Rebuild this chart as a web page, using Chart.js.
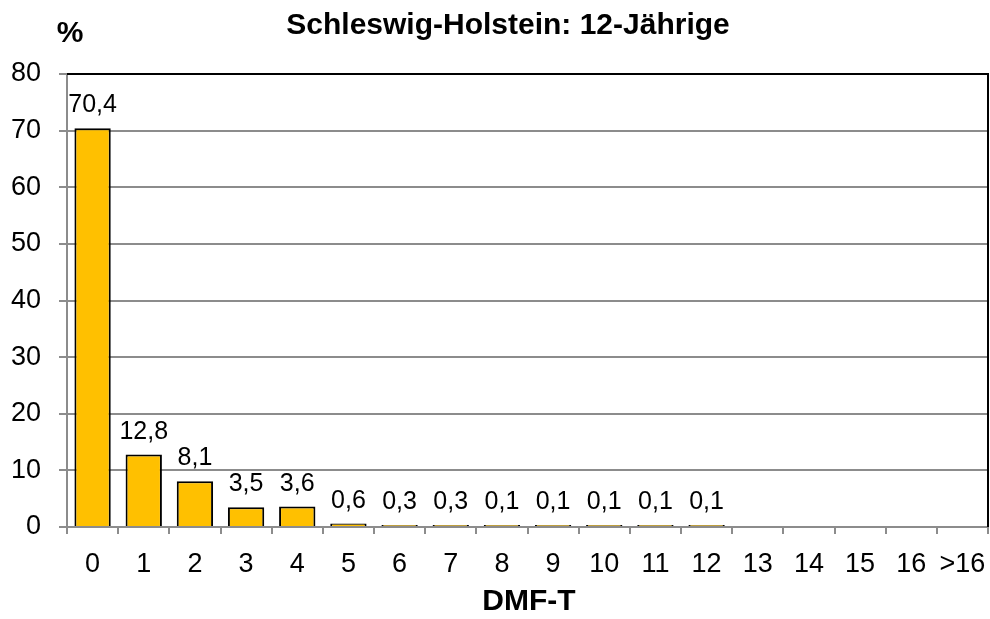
<!DOCTYPE html>
<html><head><meta charset="utf-8">
<script src="https://cdn.jsdelivr.net/npm/chart.js@4"></script>
<style>html,body{margin:0;padding:0;background:#fff}#w{width:990px;height:619px}</style>
</head><body><div id="w"><canvas id="c"></canvas></div>
<script>
const categories = ['0','1','2','3','4','5','6','7','8','9','10','11','12','13','14','15','16','>16'];
const values = [70.4, 12.8, 8.1, 3.5, 3.6, 0.6, 0.3, 0.3, 0.1, 0.1, 0.1, 0.1, 0.1, null, null, null, null, null];
const yTicks = [0,10,20,30,40,50,60,70,80];
const titleText = 'Schleswig-Holstein: 12-Jährige';
const yTitle = '%';
const xTitle = 'DMF-T';

const FONT = '"Liberation Sans", Arial, sans-serif';

const decor = {
  id: 'decor',
  afterDatasetsDraw(chart) {
    const ctx = chart.ctx, a = chart.chartArea;
    ctx.save();
    ctx.strokeStyle = '#000'; ctx.lineWidth = 2;
    ctx.beginPath();
    ctx.moveTo(a.left, a.top); ctx.lineTo(a.right, a.top); ctx.lineTo(a.right, a.bottom);
    ctx.stroke();
    const meta = chart.getDatasetMeta(0);
    ctx.fillStyle = '#000';
    ctx.font = '25px ' + FONT;
    ctx.textAlign = 'center'; ctx.textBaseline = 'alphabetic';
    meta.data.forEach((bar, i) => {
      const v = values[i];
      if (v === null) return;
      ctx.fillText(v.toFixed(1).replace('.', ','), bar.x, bar.y - 16);
    });
    ctx.font = 'bold 30px ' + FONT;
    ctx.fillText(titleText, 508, 34);
    ctx.fillText(yTitle, 70, 42);
    ctx.fillText(xTitle, 529, 610);
    ctx.restore();
  }
};

new Chart(document.getElementById('c'), {
  type: 'bar',
  data: {
    labels: categories,
    datasets: [{
      data: values,
      backgroundColor: '#FFC000',
      borderColor: '#000',
      borderWidth: 2,
      minBarLength: 2,
      barPercentage: 0.71,
      categoryPercentage: 1.0
    }]
  },
  options: {
    responsive: true,
    maintainAspectRatio: false,
    animation: false,
    layout: { padding: { top: 74, right: 2, left: 0, bottom: 0 } },
    plugins: { legend: { display: false }, tooltip: { enabled: false }, title: { display: false } },
    scales: {
      x: {
        offset: true,
        grid: { offset: true, drawOnChartArea: false, drawTicks: true, tickLength: 7, color: '#8c8c8c', lineWidth: 2 },
        border: { color: '#8c8c8c', width: 2 },
        ticks: { color: '#000', font: { family: FONT, size: 27 }, padding: 14, maxRotation: 0, autoSkip: false },
        afterFit(s) { s.height = 92; s.paddingLeft = 0; s.paddingRight = 0; }
      },
      y: {
        min: 0, max: 80,
        afterBuildTicks(s) { s.ticks = yTicks.map(v => ({ value: v })); },
        grid: { color: '#8c8c8c', lineWidth: 2, tickLength: 8 },
        border: { color: '#8c8c8c', width: 2 },
        ticks: { color: '#000', font: { family: FONT, size: 27 }, padding: 18 },
        afterFit(s) { s.width = 67; s.paddingTop = 0; s.paddingBottom = 0; }
      }
    }
  },
  plugins: [decor]
});
</script></body></html>
